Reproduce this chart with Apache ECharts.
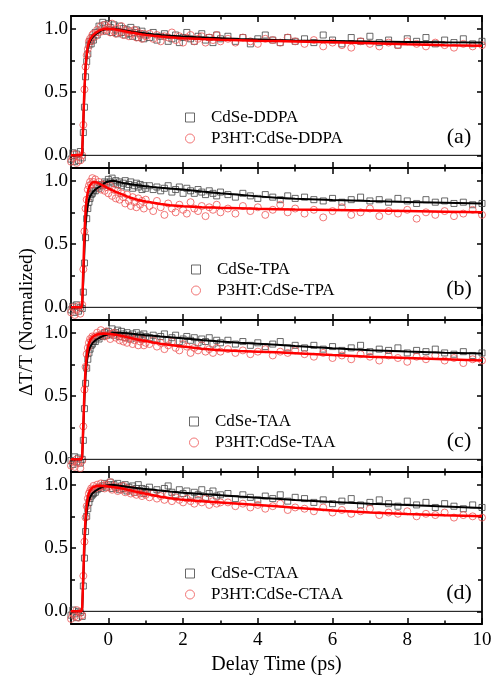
<!DOCTYPE html>
<html><head><meta charset="utf-8">
<script src="https://cdn.jsdelivr.net/npm/echarts@6/dist/echarts.min.js"></script>
<style>html,body{margin:0;padding:0;background:#fff}#c{width:496px;height:676px}</style>
</head><body><div id="c"></div>
<script>
// ---- data ----
const xData = [-1.0,-0.95,-0.9,-0.85,-0.8,-0.75,-0.7,
  -0.67,-0.64,-0.61,-0.58,-0.55,-0.52,-0.49,-0.46,-0.43,-0.4,
  -0.35,-0.3,-0.25,-0.2,-0.15,-0.1,-0.05,0,0.05,0.1,0.15,0.2,0.25,0.3,0.35,0.4,0.45,0.5,0.55,0.6,0.65,0.7,0.75,0.8,0.85,0.9,0.95,1.0,
  1.1,1.2,1.3,1.4,1.5,1.6,1.7,1.8,1.9,2.0,2.1,2.2,2.3,2.4,2.5,2.6,2.7,2.8,2.9,3.0,
  3.2,3.4,3.6,3.8,4.0,4.2,4.4,4.6,4.8,5.0,
  5.25,5.5,5.75,6.0,6.25,6.5,6.75,7.0,7.25,7.5,7.75,8.0,8.25,8.5,8.75,9.0,9.25,9.5,9.75,10.0];

const xFit = [-1,-0.9,-0.8,-0.72,-0.7,-0.67,-0.64,-0.61,-0.58,-0.55,-0.52,-0.49,-0.46,-0.43,-0.4,
  -0.35,-0.3,-0.25,-0.2,-0.15,-0.1,-0.05,0,0.1,0.2,0.3,0.4,0.5,0.6,0.7,0.8,0.9,1.0,
  1.2,1.4,1.65,2,2.5,3,3.5,4,4.5,5,6,7,8,9,10];

// panel (a) CdSe-DDPA / P3HT:CdSe-DDPA
const sqA = [-0.03,0.02,-0.05,0.01,-0.04,0.03,-0.02,
  0.18,0.38,0.62,0.74,0.8,0.87,0.9,0.88,0.93,0.91,
  0.97,0.95,1.02,0.99,1.05,1.03,0.98,1.04,1.01,0.97,1.03,0.99,0.96,1.02,0.97,1.0,0.95,0.99,0.96,1.01,0.94,0.97,0.99,0.93,0.96,0.98,0.92,0.95,
  0.93,0.97,0.91,0.94,0.96,0.9,0.92,0.95,0.89,0.93,0.97,0.92,0.9,0.94,0.96,0.91,0.93,0.89,0.95,0.92,
  0.94,0.9,0.93,0.88,0.92,0.95,0.91,0.89,0.93,0.9,
  0.92,0.89,0.95,0.91,0.88,0.93,0.9,0.94,0.89,0.91,0.87,0.92,0.9,0.93,0.88,0.91,0.89,0.92,0.88,0.9];
const ciA = [-0.05,-0.02,0.01,-0.06,-0.01,-0.04,0.0,
  0.24,0.52,0.7,0.79,0.84,0.9,0.92,0.9,0.95,0.96,
  0.94,0.99,0.97,1.02,0.98,1.03,0.99,1.01,0.97,1.04,0.98,0.96,1.0,0.97,1.02,0.95,0.99,0.97,0.94,0.98,0.96,0.99,0.93,0.97,0.95,0.92,0.96,0.94,
  0.96,0.92,0.95,0.9,0.94,0.93,0.97,0.91,0.94,0.89,0.93,0.95,0.9,0.92,0.94,0.89,0.93,0.91,0.95,0.9,
  0.92,0.89,0.93,0.9,0.88,0.92,0.91,0.89,0.93,0.9,
  0.88,0.91,0.86,0.89,0.87,0.85,0.9,0.88,0.86,0.89,0.87,0.9,0.88,0.86,0.89,0.87,0.85,0.88,0.86,0.87];
const fitSqA = [0,0,0,0,0.02,0.25,0.5,0.68,0.78,0.84,0.875,0.9,0.915,0.93,0.94,
  0.955,0.965,0.975,0.983,0.99,0.995,0.998,1.0,1.0,0.997,0.993,0.988,0.983,0.978,0.973,0.969,0.965,0.961,
  0.955,0.95,0.945,0.938,0.93,0.924,0.918,0.914,0.91,0.907,0.902,0.898,0.895,0.892,0.89];
const fitCiA = [0,0,0,0,0.03,0.28,0.53,0.7,0.8,0.86,0.895,0.915,0.93,0.943,0.953,
  0.965,0.975,0.984,0.99,0.995,0.998,1.0,1.0,0.998,0.994,0.988,0.982,0.976,0.97,0.965,0.96,0.955,0.951,
  0.944,0.938,0.932,0.925,0.918,0.913,0.909,0.905,0.902,0.899,0.892,0.884,0.876,0.87,0.865];

// panel (b) CdSe-TPA / P3HT:CdSe-TPA
const sqB = [-0.02,0.01,-0.04,0.02,-0.03,0.0,-0.01,
  0.12,0.35,0.55,0.7,0.78,0.83,0.86,0.89,0.9,0.92,
  0.92,0.95,0.94,0.97,0.96,0.99,0.98,1.01,0.99,1.02,0.98,1.0,0.97,0.99,0.96,0.98,1.0,0.95,0.97,0.99,0.94,0.96,0.98,0.95,0.97,0.93,0.96,0.94,
  0.96,0.93,0.95,0.92,0.94,0.96,0.91,0.93,0.95,0.9,0.94,0.92,0.9,0.93,0.91,0.89,0.92,0.9,0.88,0.91,
  0.89,0.87,0.9,0.88,0.86,0.89,0.87,0.85,0.88,0.86,
  0.87,0.85,0.84,0.86,0.83,0.85,0.87,0.84,0.85,0.83,0.86,0.84,0.82,0.85,0.83,0.84,0.82,0.83,0.81,0.82];
const ciB = [-0.04,0.0,-0.06,-0.02,0.01,-0.05,0.02,
  0.3,0.6,0.78,0.85,0.93,0.96,0.99,0.97,1.02,0.99,
  1.01,0.96,0.99,0.93,0.97,0.92,0.95,0.9,0.96,0.88,0.93,0.86,0.92,0.85,0.9,0.87,0.82,0.89,0.84,0.8,0.87,0.83,0.79,0.86,0.81,0.84,0.78,0.85,
  0.8,0.76,0.84,0.79,0.73,0.82,0.78,0.75,0.81,0.77,0.74,0.83,0.78,0.76,0.8,0.72,0.79,0.77,0.81,0.75,
  0.78,0.74,0.8,0.76,0.79,0.73,0.77,0.81,0.75,0.78,
  0.74,0.77,0.71,0.76,0.79,0.73,0.75,0.78,0.72,0.76,0.74,0.77,0.7,0.75,0.73,0.76,0.72,0.74,0.77,0.73];
const fitSqB = [0,0,0,0,0.02,0.22,0.46,0.64,0.75,0.81,0.85,0.875,0.89,0.905,0.915,
  0.93,0.94,0.95,0.96,0.97,0.98,0.99,0.995,1.0,0.995,0.988,0.982,0.977,0.972,0.967,0.963,0.959,0.955,
  0.949,0.944,0.938,0.93,0.915,0.9,0.888,0.876,0.866,0.858,0.847,0.839,0.832,0.826,0.82];
const fitCiB = [0,0,0,0,0.03,0.3,0.58,0.76,0.86,0.91,0.945,0.965,0.978,0.986,0.99,
  0.99,0.985,0.978,0.97,0.962,0.955,0.947,0.94,0.925,0.912,0.9,0.888,0.876,0.865,0.856,0.848,0.841,0.835,
  0.825,0.816,0.806,0.798,0.791,0.786,0.782,0.778,0.775,0.772,0.768,0.764,0.76,0.755,0.75];

// panel (c) CdSe-TAA / P3HT:CdSe-TAA
const sqC = [-0.01,-0.04,0.02,-0.02,0.01,-0.03,0.0,
  0.15,0.4,0.6,0.72,0.79,0.84,0.87,0.9,0.91,0.93,
  0.93,0.96,0.95,0.98,0.97,1.0,0.98,1.01,0.99,1.03,0.98,1.0,1.02,0.97,1.01,0.99,0.96,1.0,0.98,0.95,0.99,0.97,1.0,0.96,0.98,0.95,0.99,0.97,
  0.96,0.98,0.95,0.97,0.99,0.94,0.96,0.98,0.93,0.95,0.97,0.94,0.96,0.92,0.95,0.93,0.96,0.91,0.94,0.92,
  0.94,0.91,0.93,0.9,0.92,0.89,0.91,0.93,0.88,0.9,
  0.88,0.9,0.87,0.89,0.86,0.88,0.9,0.85,0.87,0.86,0.88,0.84,0.86,0.85,0.87,0.84,0.83,0.85,0.82,0.84];
const ciC = [-0.05,-0.02,-0.06,0.0,-0.03,-0.07,-0.01,
  0.26,0.55,0.73,0.83,0.88,0.92,0.95,0.94,0.97,0.96,
  0.97,1.0,0.98,1.02,0.99,0.97,1.01,0.98,0.95,0.99,1.0,0.96,0.98,0.94,0.97,0.93,0.96,0.92,0.95,0.97,0.91,0.94,0.96,0.9,0.93,0.95,0.9,0.92,
  0.91,0.94,0.89,0.92,0.87,0.9,0.93,0.88,0.86,0.91,0.89,0.84,0.88,0.86,0.9,0.85,0.87,0.84,0.88,0.85,
  0.87,0.84,0.86,0.83,0.85,0.87,0.82,0.85,0.84,0.86,
  0.83,0.81,0.84,0.8,0.82,0.79,0.83,0.81,0.78,0.82,0.8,0.77,0.81,0.79,0.82,0.78,0.8,0.76,0.79,0.78];
const fitSqC = [0,0,0,0,0.02,0.24,0.48,0.66,0.76,0.82,0.86,0.885,0.9,0.915,0.925,
  0.94,0.95,0.958,0.966,0.973,0.979,0.984,0.988,0.995,0.999,1.0,0.998,0.995,0.992,0.989,0.986,0.983,0.98,
  0.975,0.97,0.964,0.955,0.942,0.93,0.92,0.912,0.904,0.894,0.877,0.862,0.851,0.842,0.835];
const fitCiC = [0,0,0,0,0.03,0.28,0.54,0.72,0.82,0.88,0.915,0.94,0.955,0.965,0.972,
  0.98,0.986,0.99,0.992,0.993,0.993,0.992,0.99,0.987,0.983,0.978,0.972,0.965,0.958,0.951,0.944,0.939,0.934,
  0.923,0.913,0.902,0.89,0.873,0.862,0.855,0.85,0.845,0.838,0.823,0.81,0.8,0.79,0.78];

// panel (d) CdSe-CTAA / P3HT:CdSe-CTAA
const sqD = [-0.03,0.01,-0.02,-0.05,0.0,-0.01,-0.04,
  0.2,0.42,0.63,0.75,0.81,0.86,0.89,0.91,0.92,0.93,
  0.94,0.96,0.98,0.97,0.99,1.01,0.98,1.0,1.02,0.97,1.0,0.98,1.01,0.96,0.99,0.97,1.0,0.95,0.98,0.96,0.99,0.94,0.97,1.0,0.95,0.97,0.93,0.96,
  0.98,0.94,0.96,0.93,0.97,0.99,0.94,0.92,0.96,0.93,0.95,0.91,0.94,0.92,0.96,0.9,0.93,0.95,0.91,0.92,
  0.93,0.89,0.92,0.9,0.88,0.91,0.89,0.92,0.87,0.9,
  0.89,0.86,0.88,0.85,0.87,0.89,0.84,0.86,0.88,0.85,0.83,0.87,0.84,0.86,0.82,0.85,0.83,0.81,0.84,0.82];
const ciD = [-0.06,-0.02,-0.04,0.01,-0.05,-0.01,-0.03,
  0.28,0.55,0.74,0.83,0.89,0.93,0.95,0.97,0.96,0.99,
  0.97,1.0,0.98,1.01,0.99,0.97,1.0,0.98,1.02,0.96,0.99,0.97,0.95,0.98,0.96,0.99,0.94,0.97,0.95,0.93,0.96,0.94,0.92,0.95,0.93,0.91,0.94,0.92,
  0.9,0.93,0.89,0.91,0.88,0.92,0.87,0.9,0.88,0.86,0.89,0.87,0.85,0.88,0.86,0.89,0.84,0.87,0.85,0.86,
  0.86,0.83,0.85,0.82,0.84,0.81,0.83,0.85,0.8,0.82,
  0.81,0.79,0.82,0.78,0.8,0.77,0.79,0.81,0.76,0.78,0.77,0.79,0.75,0.77,0.76,0.78,0.74,0.76,0.75,0.74];
const fitSqD = [0,0,0,0,0.02,0.25,0.5,0.68,0.78,0.84,0.875,0.9,0.915,0.93,0.94,
  0.95,0.96,0.968,0.975,0.982,0.988,0.994,0.998,1.0,0.996,0.992,0.988,0.984,0.98,0.976,0.972,0.968,0.965,
  0.959,0.953,0.946,0.937,0.926,0.916,0.906,0.897,0.888,0.879,0.863,0.85,0.839,0.828,0.815];
const fitCiD = [0,0,0,0,0.03,0.3,0.57,0.74,0.84,0.9,0.935,0.955,0.968,0.976,0.982,
  0.987,0.99,0.991,0.991,0.99,0.989,0.988,0.986,0.982,0.978,0.974,0.968,0.961,0.954,0.947,0.94,0.935,0.929,
  0.917,0.905,0.892,0.88,0.869,0.86,0.85,0.84,0.83,0.818,0.797,0.781,0.768,0.758,0.75];

const squareNames = ['CdSe-DDPA','CdSe-TPA','CdSe-TAA','CdSe-CTAA'];
const circleNames = ['P3HT:CdSe-DDPA','P3HT:CdSe-TPA','P3HT:CdSe-TAA','P3HT:CdSe-CTAA'];
const panelLabels = ['(a)','(b)','(c)','(d)'];
const xMajorTicks = [0,2,4,6,8,10];
const xMinorTicks = [1,3,5,7,9];
const yMajorTicks = [0,0.5,1.0];
const yMinorTicks = [0.25,0.75];

// ---- layout / style ----
const FONT = '"Liberation Serif","Times New Roman",serif';
const sqSets = [sqA,sqB,sqC,sqD];
const ciSets = [ciA,ciB,ciC,ciD];
const fitSqSets = [fitSqA,fitSqB,fitSqC,fitSqD];
const fitCiSets = [fitCiA,fitCiB,fitCiC,fitCiD];
const panelTop = [16,168,320,472];
const panelH = 152;
const legendLeft = [185,191,189,185];
const SQ = 'path://M0,0L10,0L10,10L0,10Z';
const zip = (xs, ys) => xs.map((x, k) => [x, ys[k]]);

const grid = [], xAxis = [], yAxis = [], series = [], legend = [], graphic = [];
function xAx(i, pos, ticks, len, line, label) {
  const a = {type:'value', gridIndex:i, position:pos, min:-1, max:10,
    axisLine:{show:line, onZero:false, lineStyle:{color:'#000', width:1.8}},
    axisTick:{show:true, inside:true, length:len, customValues:ticks, lineStyle:{color:'#000', width:1.5}},
    axisLabel:{show:label, customValues:xMajorTicks, margin:7, color:'#000', fontFamily:FONT, fontSize:19},
    splitLine:{show:false}, minorTick:{show:false}};
  if (label) {
    a.name = 'Delay Time (ps)'; a.nameLocation = 'middle'; a.nameGap = 31;
    a.nameTextStyle = {fontFamily:FONT, fontSize:20, color:'#000'};
  }
  return a;
}
function yAx(i, pos, ticks, len, line, label) {
  return {type:'value', gridIndex:i, position:pos, min:-0.1, max:1.1,
    axisLine:{show:line, onZero:false, lineStyle:{color:'#000', width:1.8}},
    axisTick:{show:true, inside:true, length:len, customValues:ticks, lineStyle:{color:'#000', width:1.5}},
    axisLabel:{show:label, customValues:yMajorTicks, margin:3, color:'#000', fontFamily:FONT, fontSize:19,
      formatter: v => Number(v).toFixed(1)},
    splitLine:{show:false}, minorTick:{show:false}};
}

for (let i = 0; i < 4; i++) {
  const T = panelTop[i];
  grid.push({left:71, right:14, top:T, height:panelH});
  xAxis.push(xAx(i,'bottom',xMajorTicks,6,true,i===3));
  xAxis.push(xAx(i,'top',xMajorTicks,6,true,false));
  xAxis.push(xAx(i,'bottom',xMinorTicks,3.5,false,false));
  xAxis.push(xAx(i,'top',xMinorTicks,3.5,false,false));
  yAxis.push(yAx(i,'left',yMajorTicks,5,true,true));
  yAxis.push(yAx(i,'right',yMajorTicks,5,true,false));
  yAxis.push(yAx(i,'left',yMinorTicks,4,false,false));
  yAxis.push(yAx(i,'right',yMinorTicks,4,false,false));
  const ax = {xAxisIndex:4*i, yAxisIndex:4*i};
  series.push(Object.assign({type:'line', data:[[-1,0],[10,0]], symbol:'none', silent:true,
    lineStyle:{color:'#000', width:1}}, ax));
  series.push(Object.assign({type:'scatter', name:squareNames[i], data:zip(xData, sqSets[i]),
    symbol:SQ, symbolSize:6, itemStyle:{color:'rgba(0,0,0,0)', borderColor:'#444', borderWidth:1}}, ax));
  series.push(Object.assign({type:'scatter', name:circleNames[i], data:zip(xData, ciSets[i]),
    symbol:'circle', symbolSize:7, itemStyle:{color:'rgba(0,0,0,0)', borderColor:'#ee5555', borderWidth:1}}, ax));
  series.push(Object.assign({type:'line', data:zip(xFit, fitSqSets[i]), symbol:'none', silent:true,
    lineStyle:{color:'#000', width:2}}, ax));
  series.push(Object.assign({type:'line', data:zip(xFit, fitCiSets[i]), symbol:'none', silent:true,
    lineStyle:{color:'#ff0000', width:2.5}}, ax));
  legend.push({data:[squareNames[i], circleNames[i]], orient:'vertical', left:legendLeft[i], top:T+93,
    itemWidth:32, itemHeight:9, itemGap:4, selectedMode:false, padding:0,
    itemStyle:{borderWidth:1},
    textStyle:{fontFamily:FONT, fontSize:17, lineHeight:16, color:'#000'}});
  graphic.push({type:'text', x:459, y:T+121,
    style:{text:panelLabels[i], font:'22px ' + FONT, fill:'#000', textAlign:'center', textVerticalAlign:'middle'}});
}
graphic.push({type:'text', x:27, y:322, rotation:Math.PI/2,
  style:{text:'\u0394T/T (Normalized)', font:'19px ' + FONT, fill:'#000', textAlign:'center', textVerticalAlign:'middle'}});

const chart = echarts.init(document.getElementById('c'), null, {renderer:'canvas'});
chart.setOption({animation:false, backgroundColor:'#fff', grid, xAxis, yAxis, series, legend, graphic});
</script></body></html>
